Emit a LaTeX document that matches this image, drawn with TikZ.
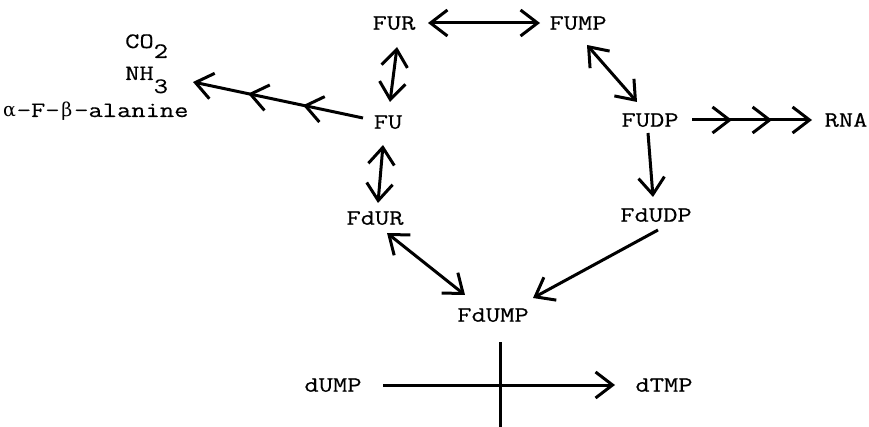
\documentclass[tikz,border=0pt]{standalone}
\usepackage{fontspec}
\setmonofont[FakeStretch=1.26,FakeBold=0.5]{Latin Modern Mono}
\newfontfamily\gkfont{DejaVu Serif}
\usetikzlibrary{arrows.meta,decorations.markings}
\newcommand{\fsz}{\ttfamily\fontsize{22pt}{26pt}\selectfont}
\newcommand{\gk}[1]{\makebox[14.6pt]{\gkfont\fontsize{19pt}{22pt}\selectfont #1}}
\begin{document}
\begin{tikzpicture}[x=1pt,y=-1pt,
  >={Straight Barb[length=17pt,width=26pt]},
  lbl/.style={inner sep=0pt,font=\fsz,text height=13.4pt,text depth=0pt},
  txt/.style={inner sep=0pt,font=\fsz,anchor=base west},
  conn/.style={line width=3pt},
  tips/.style 2 args={postaction={decorate},decoration={markings,
      mark=at position #1 with {\arrow{>}},
      mark=at position #2 with {\arrow{>}}}}
]
\useasboundingbox (0,0) rectangle (869,427);

% nodes
\node[lbl] (FUR)   at (394,23)  {FUR};
\node[lbl] (FUMP)  at (578,23)  {FUMP};
\node[lbl] (FU)    at (388,122) {FU};
\node[lbl] (FUDP)  at (650,120) {FUDP};
\node[lbl] (RNA)   at (846,120) {RNA};
\node[lbl] (FdUR)  at (375,218) {FdUR};
\node[lbl] (FdUDP) at (656,215) {FdUDP};
\node[lbl] (FdUMP) at (493,315) {FdUMP};
\node[lbl] (dUMP)  at (333,385) {dUMP};
\node[lbl] (dTMP)  at (664,385) {dTMP};
\node[txt] (CO2)   at (125,48)  {CO\raisebox{-10pt}{2}};
\node[txt] (NH3)   at (125,80)  {NH\raisebox{-13pt}{3}};
\node[txt] (ala)   at (2,117)   {\gk{α}-F-\gk{β}-alanine};

\coordinate (prod) at (193,82);
\coordinate (vb) at (500,427);

% connectors
\draw[conn,<->] ([shift={(34,0)}]FUR.center) -- ([shift={(-38,0)}]FUMP.center);
\draw[conn,<->] ([shift={(3,24)}]FUR.center) -- ([shift={(2,-20)}]FU.center);
\draw[conn,<->] ([shift={(9,22)}]FUMP.center) -- ([shift={(-13,-18)}]FUDP.center);
\draw[conn,->,tips={0.333}{0.667}] ([shift={(42,0)}]FUDP.center) -- ([shift={(-34,0)}]RNA.center);
\draw[conn,->] ([shift={(-2,13)}]FUDP.center) -- ([shift={(-3,-18)}]FdUDP.center);
\draw[conn,->,tips={0.353}{0.676}] ([shift={(-25,-4)}]FU.center) -- (prod);
\draw[conn,<->] ([shift={(-5,23)}]FU.center) -- ([shift={(3,-15)}]FdUR.center);
\draw[conn,<->] ([shift={(12,15)}]FdUR.center) -- ([shift={(-28,-20)}]FdUMP.center);
\draw[conn,->] ([shift={(2,15)}]FdUDP.center) -- ([shift={(40,-17)}]FdUMP.center);
\draw[conn,->] ([shift={(50,0)}]dUMP.center) -- ([shift={(-49,0)}]dTMP.center);
\draw[conn] ([shift={(7,27)}]FdUMP.center) -- (vb);
\end{tikzpicture}
\end{document}
